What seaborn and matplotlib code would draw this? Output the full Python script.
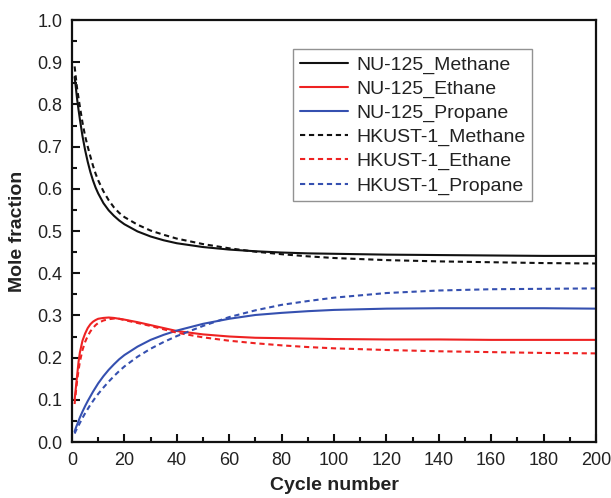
import matplotlib
matplotlib.use("Agg")
import matplotlib.pyplot as plt
from matplotlib.ticker import MultipleLocator, FormatStrFormatter
import seaborn as sns
import pandas as pd

sns.set_theme(style="ticks")
plt.rcParams["font.family"] = ["Liberation Sans", "DejaVu Sans"]

cycles = [1, 1.5, 2, 2.5, 3, 4, 5, 6, 7, 8, 9, 10, 12, 14, 16, 18, 20, 25, 30,
          35, 40, 50, 60, 70, 80, 90, 100, 120, 140, 160, 180, 200]

nu125_methane = [0.865, 0.838, 0.810, 0.787, 0.765, 0.725, 0.692, 0.664, 0.640,
                 0.620, 0.603, 0.589, 0.566, 0.549, 0.536, 0.525, 0.516, 0.499,
                 0.487, 0.478, 0.471, 0.462, 0.456, 0.452, 0.449, 0.447, 0.446,
                 0.444, 0.443, 0.442, 0.441, 0.441]
nu125_ethane = [0.100, 0.130, 0.160, 0.190, 0.212, 0.240, 0.257, 0.270, 0.279,
                0.285, 0.289, 0.292, 0.294, 0.295, 0.294, 0.292, 0.290, 0.284,
                0.277, 0.270, 0.263, 0.255, 0.250, 0.247, 0.246, 0.245, 0.244,
                0.243, 0.243, 0.242, 0.242, 0.242]
nu125_propane = [0.025, 0.034, 0.042, 0.050, 0.058, 0.072, 0.085, 0.097, 0.108,
                 0.119, 0.129, 0.139, 0.156, 0.171, 0.184, 0.196, 0.206, 0.226,
                 0.242, 0.254, 0.264, 0.280, 0.292, 0.301, 0.306, 0.310, 0.313,
                 0.316, 0.317, 0.317, 0.317, 0.316]
hkust_methane = [0.890, 0.862, 0.835, 0.815, 0.795, 0.757, 0.725, 0.700, 0.677,
                 0.655, 0.636, 0.620, 0.594, 0.573, 0.556, 0.543, 0.533, 0.515,
                 0.501, 0.491, 0.482, 0.469, 0.459, 0.451, 0.445, 0.440, 0.436,
                 0.431, 0.428, 0.426, 0.424, 0.423]
hkust_ethane = [0.090, 0.120, 0.148, 0.170, 0.190, 0.218, 0.237, 0.251, 0.262,
                0.270, 0.277, 0.282, 0.288, 0.291, 0.2925, 0.292, 0.289, 0.282,
                0.275, 0.267, 0.259, 0.248, 0.240, 0.234, 0.229, 0.225, 0.222,
                0.218, 0.215, 0.213, 0.211, 0.210]
hkust_propane = [0.020, 0.027, 0.033, 0.039, 0.045, 0.057, 0.068, 0.078, 0.088,
                 0.097, 0.106, 0.114, 0.129, 0.143, 0.156, 0.168, 0.179, 0.202,
                 0.221, 0.237, 0.251, 0.275, 0.296, 0.312, 0.325, 0.334, 0.342,
                 0.353, 0.359, 0.362, 0.363, 0.364]

dashed = (0, (2.5, 1.8))
series = [
    ("NU-125_Methane", nu125_methane, "#111111", "-"),
    ("NU-125_Ethane", nu125_ethane, "#ee2222", "-"),
    ("NU-125_Propane", nu125_propane, "#3550b0", "-"),
    ("HKUST-1_Methane", hkust_methane, "#111111", dashed),
    ("HKUST-1_Ethane", hkust_ethane, "#ee2222", dashed),
    ("HKUST-1_Propane", hkust_propane, "#3550b0", dashed),
]

fig = plt.figure(figsize=(6.11, 4.98), dpi=100)
ax = fig.add_axes([72 / 611, 1 - 442 / 498, (596 - 72) / 611, (442 - 20) / 498])

for name, values, color, ls in series:
    df = pd.DataFrame({"Cycle number": cycles, "Mole fraction": values})
    sns.lineplot(data=df, x="Cycle number", y="Mole fraction", ax=ax,
                 color=color, linestyle=ls, linewidth=1.5, label=name)

ax.set_xlim(0, 200)
ax.set_ylim(0, 1.0)
ax.xaxis.set_major_locator(MultipleLocator(20))
ax.xaxis.set_minor_locator(MultipleLocator(10))
ax.yaxis.set_major_locator(MultipleLocator(0.1))
ax.yaxis.set_minor_locator(MultipleLocator(0.05))
ax.yaxis.set_major_formatter(FormatStrFormatter("%.1f"))
ax.tick_params(which="major", direction="in", length=6, width=1.5,
               labelsize=13, color="#111111", labelcolor="#222222", pad=7,
               bottom=True, left=True, top=False, right=False)
ax.tick_params(which="minor", direction="in", length=3.5, width=1.5,
               color="#111111", bottom=True, left=True, top=False, right=False)
for sp in ax.spines.values():
    sp.set_visible(True)
    sp.set_linewidth(1.6)
    sp.set_color("#111111")

ax.set_xlabel("Cycle number", fontsize=14, fontweight="bold", labelpad=6,
              color="#222222")
ax.set_ylabel("Mole fraction", fontsize=14, fontweight="bold", labelpad=8,
              color="#222222")

leg = ax.legend(loc="upper left",
                bbox_to_anchor=((293 - 72) / 524, 1 - (49 - 20) / 422),
                borderaxespad=0, fontsize=14, frameon=True, fancybox=False,
                handlelength=2.5, handletextpad=0.4, borderpad=0.35,
                labelspacing=0.33)
leg.get_frame().set_edgecolor("#777777")
leg.get_frame().set_linewidth(1.0)
for t in leg.get_texts():
    t.set_color("#222222")

fig.savefig("out.png", dpi=100)
